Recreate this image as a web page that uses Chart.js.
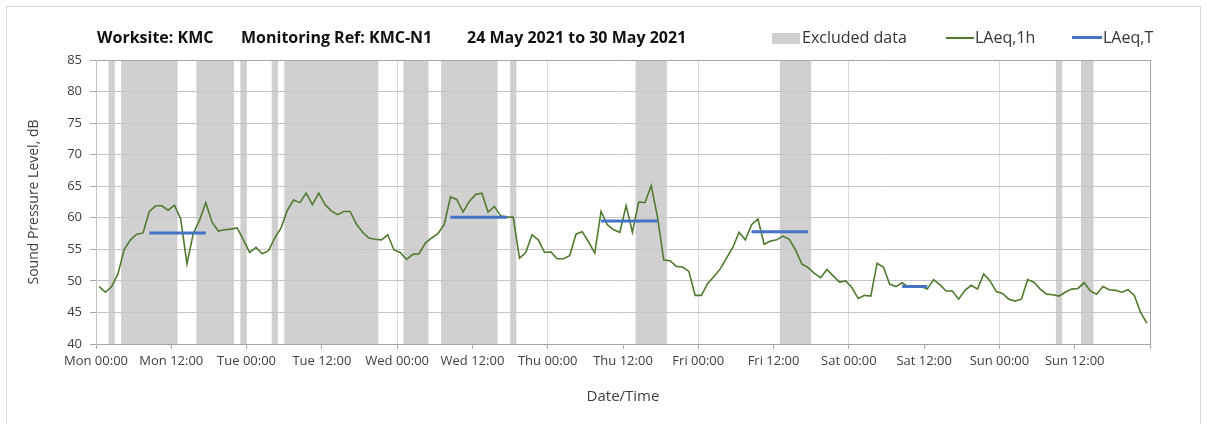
<!DOCTYPE html>
<html>
<head>
<meta charset="utf-8">
<script src="https://cdn.jsdelivr.net/npm/chart.js@4.4.1/dist/chart.umd.min.js"></script>
<style>
  html, body { margin: 0; padding: 0; background: #fff; }
  body { width: 1208px; height: 424px; overflow: hidden; position: relative; font-family: 'Open Sans', sans-serif; }
  #frame { position: absolute; left: 6px; top: 6px; width: 1195px; height: 440px; border: 1px solid #d9d9d9; box-sizing: border-box; }
  #chart-wrap { position: absolute; left: 0; top: 0; width: 1208px; height: 424px; }
  .hdr { position: absolute; top: 26px; font-size: 16px; line-height: 22px; white-space: pre; }
  .title { font-weight: bold; color: #111; }
  .legend { color: #333; }
  .key { position: absolute; }
</style>
</head>
<body>
<div id="frame"></div>
<div id="chart-wrap"><canvas id="noise-chart" width="1208" height="424"></canvas></div>

<!-- header: title pieces + legend -->
<span class="hdr title" style="left:97px;">Worksite: KMC</span>
<span class="hdr title" style="left:241px;">Monitoring Ref: KMC-N1</span>
<span class="hdr title" style="left:467px;">24 May 2021 to 30 May 2021</span>

<div class="key" style="left:772px; top:33px; width:28px; height:11px; background:#d0d0d0;"></div>
<span class="hdr legend" style="left:802px;">Excluded data</span>
<div class="key" style="left:946px; top:37px; width:28px; height:2px; background:#4f7a2f;"></div>
<span class="hdr legend" style="left:975px;">LAeq,1h</span>
<div class="key" style="left:1072px; top:36px; width:30px; height:3px; background:#4472c4;"></div>
<span class="hdr legend" style="left:1103px;">LAeq,T</span>

<script>
// x axis: hours from Mon 00:00, ticks every 12h
const tickLabels = ['Mon 00:00', 'Mon 12:00', 'Tue 00:00', 'Tue 12:00', 'Wed 00:00', 'Wed 12:00',
  'Thu 00:00', 'Thu 12:00', 'Fri 00:00', 'Fri 12:00', 'Sat 00:00', 'Sat 12:00', 'Sun 00:00', 'Sun 12:00'];

// hourly LAeq,1h (one value per hour, Mon 00:00 -> Sun 23:00)
const laeq1h = [
  49.1, 48.2, 49.1, 51.1, 55.0, 56.5, 57.4, 57.6, 61.0, 61.9,
  61.9, 61.2, 62.0, 59.8, 52.7, 57.5, 59.6, 62.4, 59.3, 57.9,
  58.1, 58.2, 58.4, 56.5, 54.5, 55.3, 54.3, 54.8, 56.8, 58.4,
  61.2, 62.8, 62.4, 63.9, 62.1, 63.9, 62.1, 61.1, 60.5, 61.0,
  61.0, 59.0, 57.7, 56.8, 56.6, 56.5, 57.3, 54.9, 54.5, 53.4,
  54.2, 54.3, 56.0, 56.8, 57.5, 58.9, 63.3, 62.9, 60.9, 62.6,
  63.7, 63.9, 60.9, 61.8, 60.3, 60.1, 60.1, 53.6, 54.5, 57.3,
  56.5, 54.5, 54.6, 53.5, 53.5, 54.0, 57.4, 57.8, 56.2, 54.4,
  61.0, 58.9, 58.1, 57.7, 61.9, 57.7, 62.5, 62.4, 65.1, 60.1,
  53.3, 53.2, 52.3, 52.2, 51.5, 47.7, 47.7, 49.6, 50.7, 51.9,
  53.6, 55.3, 57.7, 56.5, 58.9, 59.8, 55.8, 56.3, 56.5, 57.1,
  56.6, 54.9, 52.7, 52.1, 51.2, 50.5, 51.8, 50.8, 49.8, 50.0,
  48.9, 47.2, 47.7, 47.6, 52.8, 52.2, 49.5, 49.1, 49.7, 49.0,
  49.0, 49.1, 48.7, 50.2, 49.4, 48.4, 48.4, 47.1, 48.5, 49.3,
  48.7, 51.1, 50.0, 48.3, 48.0, 47.1, 46.8, 47.1, 50.2, 49.8,
  48.7, 47.9, 47.8, 47.6, 48.2, 48.7, 48.8, 49.7, 48.4, 47.9,
  49.1, 48.6, 48.5, 48.2, 48.6, 47.7, 45.0, 43.3
];

// excluded data periods [start hour, end hour]
const excludedHours = [[2, 3], [4, 13], [16, 22], [23, 24], [28, 29], [30, 45], [49, 53],
  [55, 64], [66, 67], [86, 91], [109, 114], [153, 154], [157, 159]];

// LAeq,T assessment periods and levels
const laeqTPeriods = [[8.5, 17.5], [56.5, 65.5], [80.5, 89.5], [104.5, 113.5], [128.5, 132.5]];
const laeqTValues = [57.6, 60.1, 59.5, 57.8, 49.1];

const hourlyPoints = laeq1h.map((y, i) => ({ x: i + 0.5, y }));
const laeqTPoints = [];
laeqTPeriods.forEach(([s, e], i) => {
  laeqTPoints.push({ x: s, y: laeqTValues[i] }, { x: e, y: laeqTValues[i] }, { x: e, y: null });
});

const excludedBands = {
  id: 'excludedBands',
  beforeDraw(chart) {
    const { ctx, chartArea: a, scales: { x } } = chart;
    ctx.save();
    ctx.fillStyle = '#d0d0d0';
    excludedHours.forEach(([s, e]) => {
      const x0 = x.getPixelForValue(s);
      const x1 = x.getPixelForValue(e);
      ctx.fillRect(x0, a.top, x1 - x0, a.bottom - a.top);
    });
    ctx.restore();
  }
};

new Chart(document.getElementById('noise-chart'), {
  type: 'line',
  data: {
    datasets: [
      { label: 'LAeq,T', data: laeqTPoints, borderColor: '#4472c4', borderWidth: 3, pointRadius: 0, spanGaps: false, order: 0 },
      { label: 'LAeq,1h', data: hourlyPoints, borderColor: '#4f7a2f', borderWidth: 1.6, pointRadius: 0, tension: 0, order: 1 },
    ],
  },
  options: {
    responsive: false,
    animation: false,
    events: [],
    layout: { padding: { left: 20, right: 58, top: 60, bottom: 0 } },
    plugins: { legend: { display: false }, tooltip: { enabled: false } },
    scales: {
      x: {
        type: 'linear', min: 0, max: 168,
        afterFit: s => { s.height = 80; },
        afterBuildTicks: s => { s.ticks = tickLabels.map((_, i) => ({ value: i * 12 })).concat({ value: 168 }); },
        ticks: {
          autoSkip: false, maxRotation: 0, color: '#404040', font: { family: 'Open Sans', size: 13 }, padding: 4,
          callback: v => tickLabels[v / 12] ?? '',
        },
        grid: {
          color: c => (c.tick && c.tick.value % 24 === 0) ? (c.tick.value === 168 ? '#a6a6a6' : '#d9d9d9') : 'rgba(0,0,0,0)',
          tickColor: '#a6a6a6', tickLength: 5, lineWidth: 1,
        },
        border: { color: '#a6a6a6' },
        title: { display: true, text: 'Date/Time', color: '#404040', font: { family: 'Open Sans', size: 15 }, padding: { top: 0, bottom: 18 } },
      },
      y: {
        min: 40, max: 85,
        afterFit: s => { s.width = 76; },
        ticks: { stepSize: 5, color: '#404040', font: { family: 'Open Sans', size: 13 }, padding: 8 },
        grid: {
          color: c => (c.tick && c.tick.value === 85) ? '#a6a6a6' : '#c4c4c4',
          tickColor: '#a6a6a6', tickLength: 6, lineWidth: 1,
        },
        border: { color: '#c4c4c4' },
        title: { display: true, text: 'Sound Pressure Level, dB', color: '#404040', font: { family: 'Open Sans', size: 14 }, padding: { top: 6, bottom: 0 } },
      },
    },
  },
  plugins: [excludedBands],
});
</script>
</body>
</html>
